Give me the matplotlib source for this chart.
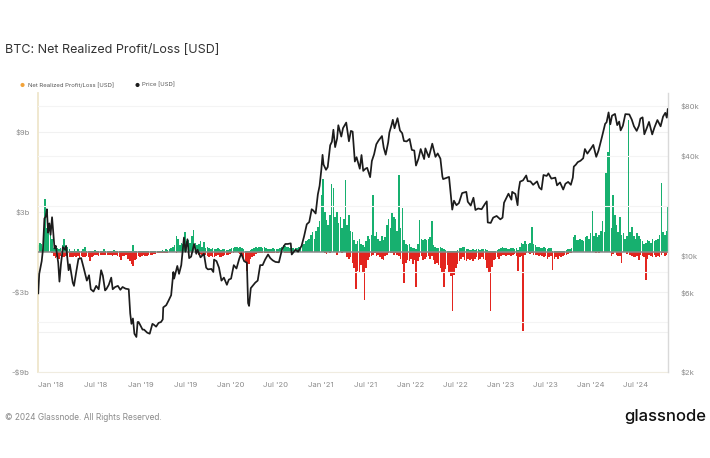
import numpy as np
import pandas as pd
import matplotlib
matplotlib.use("Agg")
import matplotlib.pyplot as plt
import matplotlib.dates as mdates
from matplotlib.ticker import FixedLocator, NullLocator

plt.rcParams['font.family'] = ['Inter', 'DejaVu Sans']

# ---------------- data ----------------
week_start = "2017-11-12"

# weekly max realized profit ($b)
profit_b = [
    0.5, 0.7, 0.6, 0.9, 4.0, 1.8, 1.4, 1.7, 1.0, 0.3,
    0.2, 0.3, 0.2, 0.3, 0.5, 1.0, 0.2, 0.4, 0.2, 0.1,
    0.1, 0.2, 0.1, 0.2, 0.1, 0.1, 0.2, 0.35, 0.1, 0.1,
    0.1, 0.1, 0.1, 0.15, 0.1, 0.1, 0.1, 0.1, 0.2, 0.1,
    0.1, 0.1, 0.1, 0.1, 0.15, 0.1, 0.1, 0.1, 0.1, 0.1,
    0.05, 0.1, 0.05, 0.1, 0.1, 0.5, 0.1, 0.05, 0.05, 0.05,
    0.05, 0.05, 0.05, 0.05, 0.05, 0.05, 0.05, 0.05, 0.1, 0.1,
    0.1, 0.1, 0.15, 0.1, 0.2, 0.15, 0.2, 0.3, 0.4, 0.5,
    1.2, 1.0, 0.5, 0.7, 0.6, 1.5, 0.8, 0.9, 0.7, 1.2,
    1.65, 0.7, 0.5, 0.6, 0.8, 0.4, 0.75, 0.3, 0.4, 0.3,
    0.2, 0.3, 0.25, 0.2, 0.3, 0.2, 0.15, 0.2, 0.2, 0.15,
    0.15, 0.2, 0.3, 0.3, 0.35, 0.4, 0.3, 0.35, 0.3, 0.2,
    0.1, 0.1, 0.1, 0.15, 0.2, 0.3, 0.35, 0.3, 0.35, 0.4,
    0.3, 0.35, 0.3, 0.2, 0.25, 0.2, 0.3, 0.25, 0.2, 0.2,
    0.3, 0.4, 0.55, 0.45, 0.4, 0.35, 0.3, 0.3, 0.3, 0.3,
    0.3, 0.35, 0.4, 0.5, 0.6, 0.8, 0.9, 1.0, 1.3, 1.5,
    1.0, 1.6, 1.9, 2.3, 4.3, 5.5, 3.0, 2.4, 2.0, 2.8,
    5.1, 4.8, 2.6, 3.0, 2.2, 2.6, 1.8, 2.5, 5.4, 2.0,
    2.8, 1.6, 1.5, 0.9, 0.6, 0.8, 1.0, 0.6, 0.5, 0.4,
    0.8, 1.2, 1.0, 1.3, 4.3, 1.2, 1.5, 1.0, 0.8, 1.2,
    0.9, 1.1, 2.0, 2.5, 1.8, 2.9, 2.6, 2.5, 1.6, 5.8,
    1.8, 3.3, 0.9, 0.6, 0.5, 0.6, 0.4, 0.3, 0.3, 0.2,
    0.6, 2.4, 1.0, 0.9, 1.0, 0.9, 1.0, 1.1, 2.3, 0.5,
    0.4, 0.3, 0.3, 0.4, 0.3, 0.2, 0.15, 0.1, 0.1, 0.1,
    0.05, 0.05, 0.1, 0.15, 0.3, 0.3, 0.4, 0.35, 0.2, 0.2,
    0.15, 0.15, 0.2, 0.15, 0.2, 0.2, 0.15, 0.2, 0.25, 0.2,
    0.15, 0.05, 0.05, 0.05, 0.1, 0.1, 0.15, 0.2, 0.3, 0.35,
    0.3, 0.3, 0.25, 0.2, 0.3, 0.3, 0.25, 0.3, 0.15, 0.4,
    0.7, 0.6, 0.8, 0.6, 0.6, 0.7, 1.9, 0.6, 0.5, 0.4,
    0.35, 0.3, 0.3, 0.4, 0.3, 0.25, 0.3, 0.3, 0.1, 0.1,
    0.1, 0.1, 0.1, 0.1, 0.1, 0.1, 0.15, 0.2, 0.2, 0.3,
    1.1, 1.3, 0.9, 0.9, 1.0, 0.9, 0.8, 1.1, 1.2, 1.0,
    1.4, 3.1, 1.2, 1.4, 1.1, 1.3, 1.6, 2.3, 1.5, 5.9,
    7.5, 9.8, 1.8, 4.3, 2.8, 2.0, 1.5, 2.65, 1.3, 1.4,
    1.0, 1.2, 9.9, 1.5, 1.9, 1.2, 1.0, 1.4, 1.2, 1.0,
    0.8, 0.6, 0.7, 0.9, 0.8, 0.7, 1.0, 0.8, 0.9, 1.0,
    1.3, 5.2, 1.5, 1.3, 1.6, 3.4,
]

# weekly max realized loss ($b)
loss_b = [
    0, 0, 0, 0, 0, 0, 0, 0, -0.1, -0.3,
    -0.45, -0.4, -0.5, -0.3, -0.35, -0.4, -0.3, -0.25, -0.35, -0.4,
    -0.4, -0.3, -0.35, -0.3, -0.45, -0.3, -0.35, -0.4, -0.3, -0.35,
    -0.65, -0.35, -0.3, -0.2, -0.25, -0.3, -0.2, -0.2, -0.25, -0.2,
    -0.2, -0.25, -0.2, -0.3, -0.2, -0.25, -0.3, -0.4, -0.6, -0.3,
    -0.3, -0.2, -0.5, -0.7, -0.9, -1.05, -0.6, -0.5, -0.3, -0.35,
    -0.3, -0.25, -0.3, -0.3, -0.25, -0.2, -0.2, -0.15, -0.15, -0.1,
    -0.1, -0.1, -0.1, -0.05, -0.05, -0.05, 0, 0, 0, 0,
    -0.05, 0, 0, 0, 0, 0, 0, 0, 0, 0,
    0, 0, -0.1, -0.2, -0.15, -0.2, -0.3, -0.25, -0.3, -0.35,
    -0.3, -0.35, -0.4, -0.3, -0.25, -0.35, -0.4, -0.3, -0.2, -0.25,
    -0.2, -0.15, -0.1, -0.05, 0, 0, -0.1, -0.15, -0.3, -0.45,
    -0.7, -1.4, -0.9, -0.5, -0.4, -0.3, -0.15, -0.1, -0.05, -0.05,
    -0.05, -0.05, -0.1, -0.1, -0.1, -0.05, -0.05, -0.05, -0.05, -0.05,
    0, 0, 0, -0.05, -0.05, -0.1, -0.05, -0.05, 0, 0,
    0, 0, 0, 0, 0, 0, 0, 0, 0, 0,
    0, 0, 0, 0, 0, 0, -0.1, -0.15, 0, -0.1,
    0, 0, 0, -0.2, 0, 0, -0.1, 0, 0, -0.35,
    -0.5, -0.4, -0.8, -1.2, -2.8, -1.4, -1.6, -1.0, -1.5, -3.6,
    -1.2, -0.6, -0.4, -0.3, -0.2, -0.1, -0.3, -0.2, -0.4, -0.5,
    -0.6, -0.3, -0.2, -0.1, -0.05, -0.1, -0.2, -0.1, -0.2, -0.3,
    -0.5, -0.9, -2.3, -0.8, -0.6, -0.7, -0.5, -0.9, -0.6, -2.6,
    -0.7, -0.4, -0.3, -0.6, -0.5, -0.4, -0.3, -0.5, -0.3, -0.6,
    -0.9, -0.8, -1.0, -1.2, -1.6, -2.6, -1.3, -1.0, -1.5, -1.8,
    -4.4, -1.7, -1.2, -0.9, -0.7, -0.5, -0.4, -0.6, -0.7, -0.5,
    -0.6, -0.5, -0.7, -0.5, -0.4, -0.6, -0.5, -0.4, -0.5, -0.6,
    -1.2, -1.5, -4.45, -1.1, -0.6, -0.5, -0.4, -0.5, -0.3, -0.2,
    -0.2, -0.3, -0.2, -0.2, -0.3, -0.2, -0.15, -0.3, -1.4, -0.4,
    -0.3, -5.9, -0.2, -0.1, -0.1, -0.15, -0.1, -0.2, -0.25, -0.2,
    -0.3, -0.2, -0.3, -0.4, -0.3, -0.5, -0.4, -0.3, -1.35, -0.5,
    -0.4, -0.5, -0.3, -0.35, -0.3, -0.2, -0.25, -0.15, -0.1, -0.05,
    0, 0, 0, 0, 0, 0, 0, 0, 0, 0,
    0, 0, 0, -0.1, 0, -0.05, 0, 0, 0, 0,
    0, 0, -0.3, -0.15, 0, -0.2, -0.3, -0.3, -0.8, 0,
    0, -0.15, 0, -0.2, -0.3, -0.35, -0.4, -0.3, -0.6, -0.2,
    -0.3, -0.4, -2.1, -0.5, -0.2, -0.3, -0.35, -0.2, -0.4, -0.3,
    -0.4, -0.2, -0.1, -0.3, -0.2, -0.05,
]

price_dates = [
    "2017-11-12", "2017-11-16", "2017-11-26", "2017-12-01", "2017-12-07", "2017-12-12",
    "2017-12-17", "2017-12-22", "2017-12-27", "2018-01-01", "2018-01-07", "2018-01-12",
    "2018-01-17", "2018-01-22", "2018-02-01", "2018-02-06", "2018-02-12", "2018-02-20",
    "2018-03-01", "2018-03-05", "2018-03-15", "2018-03-20", "2018-04-01", "2018-04-06",
    "2018-04-15", "2018-04-24", "2018-05-05", "2018-05-15", "2018-05-28", "2018-06-06",
    "2018-06-13", "2018-06-24", "2018-07-05", "2018-07-15", "2018-07-25", "2018-08-01",
    "2018-08-10", "2018-08-15", "2018-08-25", "2018-09-04", "2018-09-10", "2018-09-20",
    "2018-10-01", "2018-10-11", "2018-10-20", "2018-11-01", "2018-11-14", "2018-11-20",
    "2018-11-25", "2018-12-01", "2018-12-07", "2018-12-15", "2018-12-20", "2018-12-24",
    "2018-12-30", "2019-01-09", "2019-01-15", "2019-01-28", "2019-02-07", "2019-02-18",
    "2019-02-24", "2019-03-05", "2019-03-15", "2019-03-25", "2019-04-01", "2019-04-03",
    "2019-04-15", "2019-04-25", "2019-05-05", "2019-05-14", "2019-05-17", "2019-05-30",
    "2019-06-06", "2019-06-15", "2019-06-26", "2019-07-02", "2019-07-10", "2019-07-17",
    "2019-07-25", "2019-08-06", "2019-08-15", "2019-08-20", "2019-09-01", "2019-09-15",
    "2019-09-24", "2019-10-01", "2019-10-15", "2019-10-23", "2019-10-26", "2019-11-05",
    "2019-11-15", "2019-11-25", "2019-12-05", "2019-12-17", "2019-12-25", "2020-01-03",
    "2020-01-14", "2020-01-25", "2020-02-05", "2020-02-13", "2020-02-25", "2020-03-07",
    "2020-03-12", "2020-03-16", "2020-03-23", "2020-04-01", "2020-04-10", "2020-04-20",
    "2020-04-30", "2020-05-10", "2020-05-20", "2020-06-01", "2020-06-10", "2020-06-20",
    "2020-07-01", "2020-07-15", "2020-07-28", "2020-08-10", "2020-08-20", "2020-09-01",
    "2020-09-05", "2020-09-20", "2020-10-01", "2020-10-15", "2020-10-25", "2020-11-05",
    "2020-11-15", "2020-11-25", "2020-12-01", "2020-12-11", "2020-12-20", "2020-12-27",
    "2021-01-03", "2021-01-08", "2021-01-12", "2021-01-22", "2021-01-29", "2021-02-08",
    "2021-02-15", "2021-02-21", "2021-02-28", "2021-03-08", "2021-03-13", "2021-03-25",
    "2021-04-01", "2021-04-14", "2021-04-25", "2021-05-03", "2021-05-10", "2021-05-19",
    "2021-05-26", "2021-06-08", "2021-06-15", "2021-06-22", "2021-07-01", "2021-07-08",
    "2021-07-20", "2021-07-27", "2021-08-05", "2021-08-14", "2021-08-23", "2021-09-06",
    "2021-09-13", "2021-09-21", "2021-10-01", "2021-10-06", "2021-10-15", "2021-10-20",
    "2021-10-27", "2021-11-08", "2021-11-18", "2021-11-27", "2021-12-04", "2021-12-15",
    "2021-12-27", "2022-01-05", "2022-01-15", "2022-01-22", "2022-02-01", "2022-02-10",
    "2022-02-24", "2022-03-01", "2022-03-15", "2022-03-29", "2022-04-11", "2022-04-20",
    "2022-05-01", "2022-05-09", "2022-05-12", "2022-05-25", "2022-06-05", "2022-06-13",
    "2022-06-18", "2022-06-25", "2022-07-05", "2022-07-15", "2022-07-28", "2022-08-14",
    "2022-08-20", "2022-09-01", "2022-09-12", "2022-09-20", "2022-10-01", "2022-10-15",
    "2022-10-29", "2022-11-05", "2022-11-09", "2022-11-21", "2022-12-01", "2022-12-15",
    "2022-12-30", "2023-01-08", "2023-01-14", "2023-01-25", "2023-02-01", "2023-02-13",
    "2023-02-16", "2023-03-01", "2023-03-10", "2023-03-14", "2023-03-20", "2023-04-01",
    "2023-04-14", "2023-04-20", "2023-05-01", "2023-05-12", "2023-05-28", "2023-06-06",
    "2023-06-15", "2023-06-23", "2023-07-06", "2023-07-13", "2023-07-25", "2023-08-10",
    "2023-08-17", "2023-08-29", "2023-09-11", "2023-09-20", "2023-10-01", "2023-10-12",
    "2023-10-20", "2023-10-24", "2023-11-01", "2023-11-09", "2023-11-20", "2023-12-01",
    "2023-12-08", "2023-12-18", "2024-01-01", "2024-01-11", "2024-01-23", "2024-02-01",
    "2024-02-15", "2024-02-28", "2024-03-05", "2024-03-13", "2024-03-20", "2024-03-27",
    "2024-04-08", "2024-04-17", "2024-04-25", "2024-05-01", "2024-05-10", "2024-05-20",
    "2024-06-05", "2024-06-15", "2024-06-24", "2024-07-05", "2024-07-14", "2024-07-20",
    "2024-07-29", "2024-08-05", "2024-08-15", "2024-08-24", "2024-09-06", "2024-09-15",
    "2024-09-27", "2024-10-10", "2024-10-20", "2024-10-29", "2024-11-04", "2024-11-08",
]
price_usd = [
    5950, 7800, 9300, 10900, 16800, 17200,
    19100, 13800, 15700, 13400, 17100, 13900,
    11100, 11500, 9100, 7000, 8900, 11300,
    10900, 11500, 8200, 8900, 6900, 6600,
    8000, 9600, 9700, 8500, 7100, 7650,
    6300, 6100, 6600, 6300, 8200, 7600,
    6200, 6300, 6700, 7400, 6300, 6500,
    6600, 6250, 6500, 6350, 6300, 4500,
    3900, 4200, 3400, 3250, 4000, 4000,
    3850, 3600, 3600, 3450, 3400, 3900,
    3850, 3750, 3950, 4000, 4150, 4900,
    5050, 5400, 5800, 8000, 7300, 8700,
    7800, 8800, 12900, 10600, 12600, 9700,
    9900, 11800, 10300, 10900, 9800, 10300,
    8500, 8300, 8350, 8000, 9500, 9300,
    8500, 7100, 7400, 6700, 7200, 7300,
    8800, 8400, 9600, 10350, 9300, 9100,
    5200, 5000, 6400, 6650, 6900, 7100,
    8800, 8800, 9500, 10200, 9700, 9400,
    9200, 9150, 11000, 11800, 11800, 11900,
    10200, 10900, 10600, 11500, 13100, 15500,
    16000, 19100, 18800, 18000, 23500, 26400,
    33000, 40600, 35500, 33000, 34300, 46400,
    48700, 57500, 45200, 50900, 61200, 52300,
    58800, 63500, 49000, 56600, 56000, 37000,
    39300, 33500, 40500, 32500, 33500, 33900,
    29800, 37300, 40900, 47000, 49500, 52700,
    44900, 40700, 48100, 55300, 61500, 66000,
    58700, 67500, 56900, 54800, 49200, 48900,
    50600, 43500, 43100, 35000, 38500, 44000,
    38300, 44400, 39300, 47400, 39500, 41400,
    38500, 30100, 29000, 29500, 29900, 22500,
    19000, 21500, 20200, 20800, 23900, 24300,
    21200, 20100, 22400, 18900, 19300, 19100,
    20600, 21300, 15900, 15800, 17000, 17400,
    16600, 17000, 20900, 22600, 23700, 21800,
    24300, 23600, 20200, 24700, 28000, 28500,
    30500, 28200, 28100, 26800, 28100, 25800,
    25100, 30700, 30300, 31400, 29200, 29600,
    26600, 27700, 25100, 27200, 27900, 26800,
    29600, 34500, 35400, 36700, 37400, 38700,
    44000, 41300, 44200, 46600, 39500, 43000,
    51900, 62400, 63800, 73100, 62000, 69900,
    71600, 61300, 64400, 57000, 60800, 71400,
    71100, 66200, 60300, 56600, 60800, 67100,
    68300, 54000, 58900, 64100, 53900, 59300,
    65800, 60300, 69000, 72700, 68000, 76500,
]

left_ticks = [-9, -3, 3, 9]
left_tick_labels = ["-$9b", "-$3b", "$3b", "$9b"]
right_ticks = [2000, 6000, 10000, 40000, 80000]
right_tick_labels = ["$2k", "$6k", "$10k", "$40k", "$80k"]
x_tick_dates = ["2018-01-01", "2018-07-01", "2019-01-01", "2019-07-01", "2020-01-01",
                "2020-07-01", "2021-01-01", "2021-07-01", "2022-01-01", "2022-07-01",
                "2023-01-01", "2023-07-01", "2024-01-01", "2024-07-01"]
x_tick_labels = ["Jan '18", "Jul '18", "Jan '19", "Jul '19", "Jan '20", "Jul '20",
                 "Jan '21", "Jul '21", "Jan '22", "Jul '22", "Jan '23", "Jul '23",
                 "Jan '24", "Jul '24"]

# ---------------- figure ----------------
W, H = 710, 458
fig = plt.figure(figsize=(W / 100, H / 100), dpi=100)
fig.patch.set_facecolor("white")

def fx(px):
    return px / W

def fy(py):
    return 1 - py / H

L, R, T, B = 38, 668, 93, 372
ax = fig.add_axes([fx(L), fy(B), fx(R) - fx(L), fy(T) - fy(B)])
ax2 = ax.twinx()

n = min(len(profit_b), len(loss_b))
wdates = pd.date_range(week_start, periods=n, freq="7D")
GREEN = "#17b06f"
RED = "#e3251f"
ax.bar(wdates, profit_b[:n], width=6.3, color=GREEN, linewidth=0, zorder=2)
ax.bar(wdates, loss_b[:n], width=6.3, color=RED, linewidth=0, zorder=2)

ax.set_ylim(-9, 11.93)
ax.set_xlim(pd.Timestamp("2017-11-11"), pd.Timestamp("2024-11-09"))

# grid
for v in [-9, -6, -3, 3, 6, 9]:
    ax.axhline(v, color="#f1f1f1", lw=0.8, zorder=0)
ax.axhline(0, color="#8a8a8a", lw=1.1, zorder=3)

pdates = pd.to_datetime(price_dates)
ax2.plot(pdates, price_usd, color="#1c1c1c", lw=1.25, zorder=4)
ax2.set_yscale("log")
ax2.set_ylim(2000, 95700)
for v in [4000, 8000, 20000, 40000, 80000]:
    ax2.axhline(v, color="#f4f4f4", lw=0.8, zorder=0)

# ticks
ax.yaxis.set_major_locator(FixedLocator(left_ticks))
ax.set_yticklabels(left_tick_labels)
ax.tick_params(axis="y", length=0, pad=6, labelsize=5.5, labelcolor="#8a8a8a")
ax2.yaxis.set_major_locator(FixedLocator(right_ticks))
ax2.yaxis.set_minor_locator(NullLocator())
ax2.set_yticklabels(right_tick_labels)
ax2.tick_params(axis="y", which="both", length=0, pad=9, labelsize=5.5, labelcolor="#8a8a8a")

ax.xaxis.set_major_locator(FixedLocator(mdates.date2num(pd.to_datetime(x_tick_dates))))
ax.set_xticklabels(x_tick_labels)
ax.tick_params(axis="x", length=0, pad=7, labelsize=5.5, labelcolor="#8a8a8a")

for a in (ax, ax2):
    for s in a.spines.values():
        s.set_visible(False)
ax.spines["left"].set_visible(True)
ax.spines["left"].set_color("#efe6cc")
ax.spines["left"].set_linewidth(1.3)
ax2.spines["right"].set_visible(True)
ax2.spines["right"].set_color("#d9d9d9")
ax2.spines["right"].set_linewidth(1.0)
ax.spines["bottom"].set_visible(True)
ax.spines["bottom"].set_color("#f0ece0")
ax.spines["bottom"].set_linewidth(0.8)
ax.set_facecolor("none")

# title / legend / footer
fig.text(fx(5), fy(50), "BTC: Net Realized Profit/Loss [USD]", fontsize=9,
         color="#333333", va="center", ha="left")
fig.text(fx(22), fy(85.5), "●", fontsize=4, color="#f2a33a", va="center", ha="center")
fig.text(fx(28), fy(85), "Net Realized Profit/Loss [USD]", fontsize=4.3,
         color="#555555", va="center", ha="left")
fig.text(fx(137), fy(85.5), "●", fontsize=4, color="#1c1c1c", va="center", ha="center")
fig.text(fx(142), fy(85), "Price [USD]", fontsize=4.3, color="#555555", va="center", ha="left")
fig.text(fx(5), fy(418), "© 2024 Glassnode. All Rights Reserved.", fontsize=6,
         color="#8a8a8a", va="center", ha="left")
fig.text(fx(706), fy(417), "glassnode", fontsize=12, color="#111111",
         va="center", ha="right", fontweight="medium")

fig.savefig("out.png", dpi=100, facecolor="white")
